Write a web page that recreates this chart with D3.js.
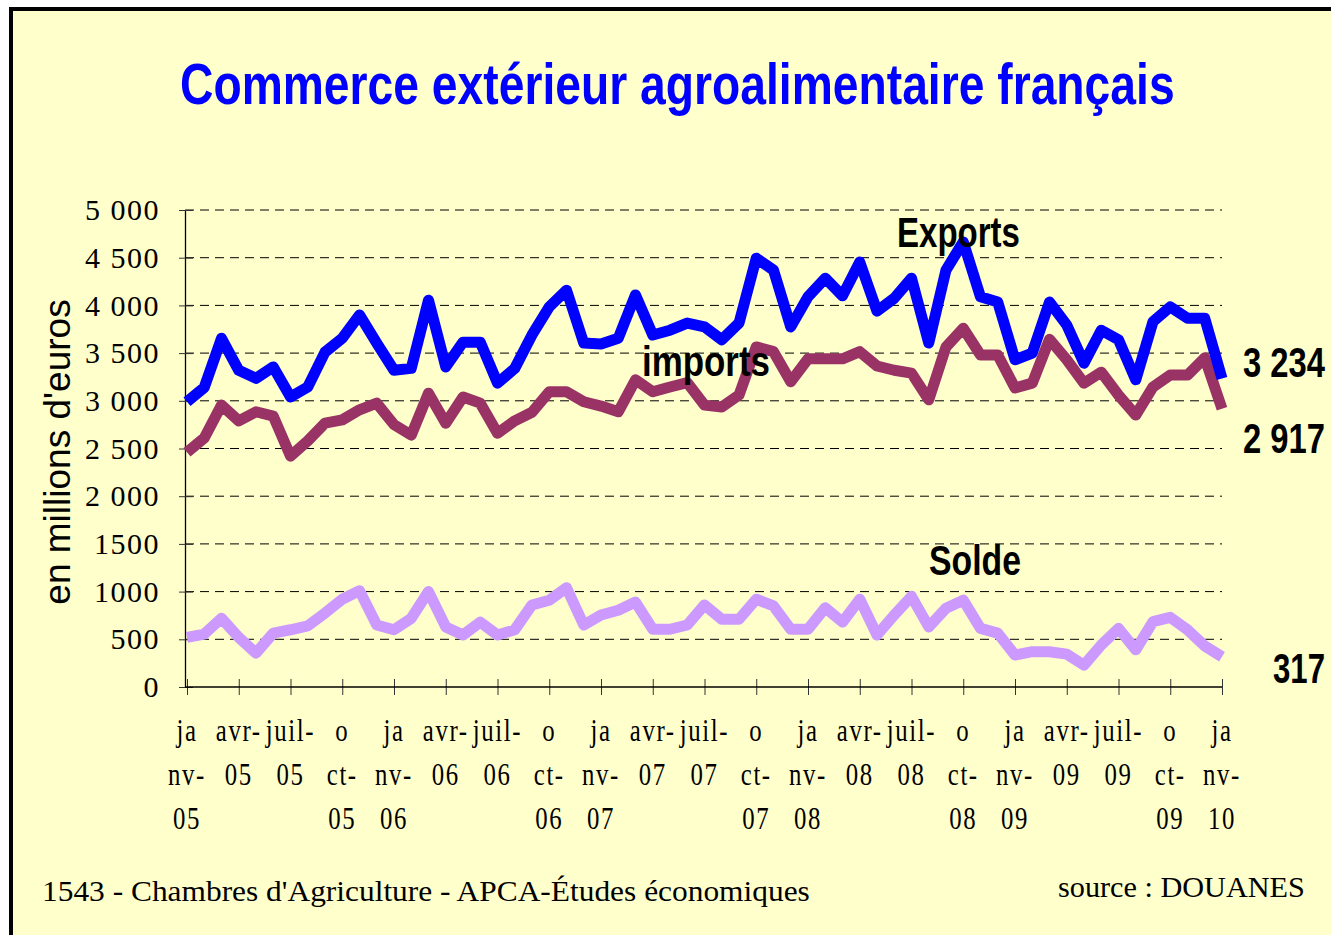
<!DOCTYPE html>
<html><head><meta charset="utf-8">
<script src="https://cdn.jsdelivr.net/npm/d3@7"></script>
<style>html,body{margin:0;padding:0;background:#fff;} svg{display:block;}</style>
</head><body>
<svg id="chart" width="1331" height="935"></svg>
<script>
// ---------- DATA ----------
const quarterLabels = ["janv-05","avr-05","juil-05","oct-05","janv-06","avr-06","juil-06","oct-06",
  "janv-07","avr-07","juil-07","oct-07","janv-08","avr-08","juil-08","oct-08",
  "janv-09","avr-09","juil-09","oct-09","janv-10"];
const yTickValues = [0,500,1000,1500,2000,2500,3000,3500,4000,4500,5000];
const yTickLabels = ["0","500","1000","1500","2 000","2 500","3 000","3 500","4 000","4 500","5 000"];
// monthly values, janv-05 .. janv-10 (61 months), millions d'euros
const exportsVals = [2990,3140,3655,3320,3235,3355,3040,3145,3510,3655,
  3900,3605,3320,3340,4055,3355,3615,3615,3185,3340,
  3690,3985,4160,3605,3595,3655,4110,3690,3740,3815,
  3775,3640,3815,4495,4370,3775,4090,4285,4100,4455,
  3940,4075,4285,3605,4370,4665,4090,4035,3430,3500,
  4035,3795,3395,3740,3640,3220,3830,3985,3865,3865,3234];
const importsVals = [2460,2610,2955,2790,2885,2840,2420,2580,2765,2800,
  2905,2975,2750,2640,3080,2765,3040,2975,2660,2790,
  2880,3095,3095,2990,2945,2885,3220,3095,3145,3190,
  2955,2935,3060,3565,3515,3200,3440,3440,3440,3515,
  3365,3320,3290,3010,3565,3760,3480,3480,3135,3185,
  3645,3430,3185,3300,3060,2850,3145,3270,3270,3450,2917];
const soldeVals = [520,555,720,520,355,565,600,640,775,920,
  1010,650,600,720,1000,630,545,680,545,600,
  860,910,1040,650,755,805,890,605,605,650,
  860,710,710,920,850,605,605,830,680,920,
  545,755,950,630,825,910,615,565,335,370,
  370,345,230,440,615,390,685,730,600,430,317];
const seriesNames = ["Exports","imports","Solde"];
const lastValueLabels = ["3 234","2 917","317"];

// ---------- DRAW ----------
const svg = d3.select("#chart");
const narrow = "'Liberation Sans Narrow','Liberation Sans',Arial,sans-serif";
const serif = "'Liberation Serif','Times New Roman',serif";

// frame
svg.append("rect").attr("x",11).attr("y",9).attr("width",1400).attr("height",1000)
  .attr("fill","#FFFFCC").attr("stroke","#000").attr("stroke-width",4);

const x = d3.scaleLinear().domain([0, exportsVals.length-1]).range([187,1222]);
const y = d3.scaleLinear().domain([0,5000]).range([687,210]);

// text fitted to a target width by horizontal scaling (left edge at tx)
function fitText(tx, ty, width, t, family, weight, size, fill){
  const el = svg.append("text").attr("x",0).attr("y",0)
    .style("font-family",family).style("font-weight",weight).style("font-size",size+"px")
    .attr("fill",fill).text(t);
  const w = el.node().getComputedTextLength();
  el.attr("transform",`translate(${tx},${ty}) scale(${width/w},1)`);
  return el;
}

// title
fitText(180,104,995,"Commerce extérieur agroalimentaire français",narrow,"bold",58,"#0000FF");

// gridlines
svg.append("g").selectAll("line").data(yTickValues.filter(v=>v>0)).join("line")
  .attr("x1",185).attr("x2",1222).attr("y1",d=>y(d)).attr("y2",d=>y(d))
  .attr("stroke","#000").attr("stroke-width",1).attr("stroke-dasharray","9,6");

// y axis
const yAxis = d3.axisLeft(y).tickValues(yTickValues)
  .tickFormat((d,i)=>yTickLabels[i]).tickSizeInner(6).tickSizeOuter(0).tickPadding(19);
const gy = svg.append("g").attr("transform","translate(185,0)").call(yAxis);
gy.select(".domain").attr("stroke","#000").attr("stroke-width",1.3);
gy.selectAll(".tick line").attr("stroke","#333").attr("x2",-6);
gy.selectAll(".tick").append("line").attr("x1",0).attr("x2",8).attr("stroke","#333");
gy.selectAll(".tick text").style("font-family",serif).style("font-size","30px")
  .style("letter-spacing","1.5px").attr("fill","#000");

// x axis
const quarterIdx = quarterLabels.map((d,i)=>i*3);
const xAxis = d3.axisBottom(x).tickValues(quarterIdx).tickFormat("").tickSizeInner(8).tickSizeOuter(0);
const gx = svg.append("g").attr("transform","translate(0,687)").call(xAxis);
gx.select(".domain").remove();
svg.append("line").attr("x1",185).attr("x2",1222).attr("y1",687).attr("y2",687)
  .attr("stroke","#000").attr("stroke-width",1.3);
gx.selectAll(".tick line").attr("stroke","#333").attr("y1",-8).attr("y2",8);

function wrapLabel(lbl){
  const [m,yy] = lbl.split("-");
  if (m==="janv") return ["ja","nv-",yy];
  if (m==="oct") return ["o","ct-",yy];
  return [m+"-",yy];
}
const lineY = [741,785,829];
const xl = svg.append("g");
quarterLabels.forEach((lbl,i)=>{
  wrapLabel(lbl).forEach((t,k)=>{
    xl.append("text").attr("x",0).attr("y",0)
      .attr("transform",`translate(${x(quarterIdx[i])},${lineY[k]}) scale(0.8,1)`)
      .attr("text-anchor","middle").style("font-family",serif).style("font-size","31px")
      .style("letter-spacing","2px").attr("fill","#000").text(t);
  });
});

// y title
svg.append("text").attr("transform","translate(70,452) rotate(-90)")
  .attr("text-anchor","middle").style("font-family","'Liberation Sans',Arial,sans-serif")
  .style("font-size","37px").attr("fill","#000").text("en millions d'euros");

// lines
const line = d3.line().x((d,i)=>x(i)).y(d=>y(d));
const series = [
  {vals: soldeVals, color:"#CC99FF"},
  {vals: importsVals, color:"#993366"},
  {vals: exportsVals, color:"#0000FF"}
];
svg.append("g").selectAll("path").data(series).join("path")
  .attr("d",d=>line(d.vals)).attr("fill","none").attr("stroke",d=>d.color)
  .attr("stroke-width",11).attr("stroke-linejoin","round").attr("stroke-linecap","butt");

// series labels and last values
const boldText = (tx,ty,len,t)=>fitText(tx,ty,len,t,narrow,"bold",42,"#000");
boldText(897,247,123,seriesNames[0]);
boldText(642,376,128,seriesNames[1]);
boldText(929,575,92,seriesNames[2]);
boldText(1243,377,82,lastValueLabels[0]);
boldText(1243,453,82,lastValueLabels[1]);
boldText(1273,683,52,lastValueLabels[2]);

// footer
fitText(42,901,768,"1543 - Chambres d'Agriculture - APCA-Études économiques",serif,"normal",30,"#000");
fitText(1058,897,247,"source : DOUANES",serif,"normal",30,"#000");
</script>
</body></html>
